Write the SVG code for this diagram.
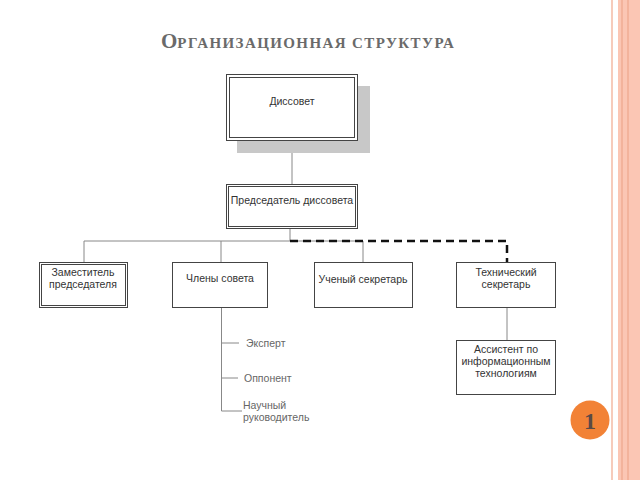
<svg xmlns="http://www.w3.org/2000/svg" width="640" height="480" viewBox="0 0 640 480">
<style>
.box{fill:#fff;stroke:#444;stroke-width:1}
.in{fill:none;stroke:#444;stroke-width:1}
.t{font-family:"Liberation Sans",Arial,sans-serif;font-size:10.5px;fill:#333;text-anchor:middle}
.s{font-family:"Liberation Sans",Arial,sans-serif;font-size:10.5px;fill:#666}
.c{stroke:#888;stroke-width:1;fill:none}
.d{stroke:#111;stroke-width:2.5;fill:none;stroke-dasharray:8 5}
</style>
<rect width="640" height="480" fill="#fff"/>
<g id="border">
<rect x="611" y="0" width="2" height="480" fill="#f6cbbb"/>
<rect x="618" y="0" width="22" height="480" fill="#fbc6b4"/>
<rect x="621" y="0" width="2" height="480" fill="#f3b39c"/>
<rect x="627" y="0" width="2" height="480" fill="#f3b39c"/>
</g>
<g id="title">
<text x="161" y="48" font-family="'Liberation Serif','Times New Roman',serif" font-weight="bold" fill="#6a6a6a"><tspan font-size="21">О</tspan><tspan font-size="15" letter-spacing="1.4">РГАНИЗАЦИОННАЯ СТРУКТУРА</tspan></text>
</g>
<g id="connectors">
<line class="c" x1="292" y1="141" x2="292" y2="185"/>
<line class="c" x1="290" y1="229" x2="290" y2="241"/>
<line class="c" x1="84" y1="241" x2="363" y2="241"/>
<line class="c" x1="84" y1="241" x2="84" y2="262"/>
<line class="c" x1="221" y1="241" x2="221" y2="262"/>
<line class="c" x1="363" y1="241" x2="363" y2="262"/>
<path class="d" d="M290 241 H507 V262"/>
<line class="c" x1="507" y1="307" x2="507" y2="340"/>
<path class="c" d="M221.5 307 V411 H242 M221.5 343 H239 M221.5 378 H238"/>
</g>
<g id="dissovet">
<rect x="237" y="86" width="133" height="67" fill="#c8c8c8"/>
<rect class="box" x="226.5" y="74.5" width="131" height="66"/>
<rect class="in" x="229.5" y="77.5" width="125" height="60" stroke-width="1.5"/>
<text class="t" x="292" y="105">Диссовет</text>
</g>
<g id="predsedatel">
<rect class="box" x="226.5" y="184.5" width="131" height="44"/>
<rect class="in" x="228.5" y="186.5" width="127" height="40"/>
<text class="t" x="292" y="204">Председатель диссовета</text>
</g>
<g id="zamestitel">
<rect class="box" x="39.5" y="262.5" width="88" height="45"/>
<rect class="in" x="41.5" y="264.5" width="84" height="41"/>
<text class="t" x="83" y="276">Заместитель</text>
<text class="t" x="83" y="288">председателя</text>
</g>
<g id="chleny">
<rect class="box" x="172.5" y="262.5" width="95" height="45"/>
<text class="t" x="220" y="282">Члены совета</text>
</g>
<g id="uchenyi">
<rect class="box" x="314.5" y="262.5" width="98" height="45"/>
<text class="t" x="363" y="283">Ученый секретарь</text>
</g>
<g id="tehnicheskii">
<rect class="box" x="456.5" y="262.5" width="99" height="45"/>
<text class="t" x="506" y="276">Технический</text>
<text class="t" x="506" y="288">секретарь</text>
</g>
<g id="assistent">
<rect class="box" x="456.5" y="340.5" width="99" height="54"/>
<text class="t" x="506" y="353">Ассистент по</text>
<text class="t" x="506" y="365">информационным</text>
<text class="t" x="506" y="377">технологиям</text>
</g>
<g id="sublist">
<text class="s" x="246" y="347">Эксперт</text>
<text class="s" x="244" y="382">Оппонент</text>
<text class="s" x="243" y="409">Научный</text>
<text class="s" x="243" y="421">руководитель</text>
</g>
<g id="badge">
<circle cx="590" cy="420" r="19.5" fill="#f28236"/>
<text x="590" y="429" font-family="'Liberation Serif','Times New Roman',serif" font-weight="bold" font-size="24" fill="#5a4a45" text-anchor="middle">1</text>
</g>
</svg>
